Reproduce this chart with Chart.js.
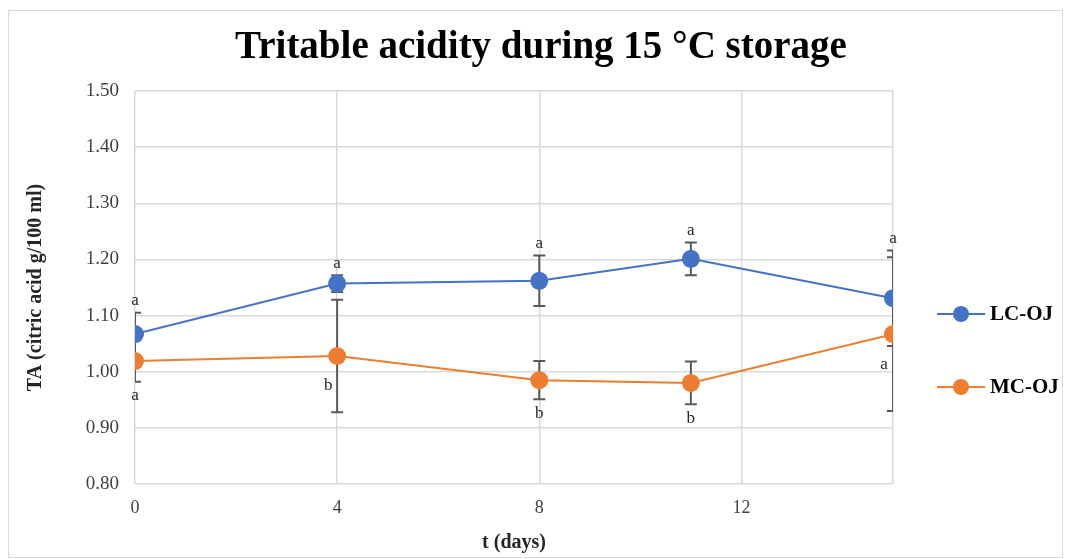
<!DOCTYPE html>
<html>
<head>
<meta charset="utf-8">
<script src="https://cdn.jsdelivr.net/npm/chart.js@4"></script>
<style>
  body { margin: 0; background: #fff; }
  canvas { display: block; }
</style>
</head>
<body>
<canvas id="chart" width="1065" height="559"></canvas>
<script>
// data
var days = [0, 4, 8, 11, 15];
var lcValues = [1.067, 1.157, 1.162, 1.201, 1.131];
var lcErrors = [0.038, 0.015, 0.045, 0.029, 0.085];
var mcValues = [1.019, 1.028, 0.985, 0.980, 1.067];
var mcErrors = [0.037, 0.100, 0.034, 0.038, 0.137];
var lcLetters = ['a', 'a', 'a', 'a', 'a'];
var mcLetters = ['a', 'b', 'b', 'b', 'a'];
var xTicks = [0, 4, 8, 12];
var chartTitle = 'Tritable acidity during 15 °C storage';

var serif = '"Liberation Serif", "Times New Roman", serif';
// where each MC letter sits relative to its point
var mcLetterPlace = ['below', 'left', 'below', 'below', 'left'];

function toPoints(xs, ys) {
  var pts = [];
  for (let i = 0; i < xs.length; i++) {
    pts.push({ x: xs[i], y: ys[i] });
  }
  return pts;
}

var extras = {
  id: 'extras',
  beforeDatasetsDraw: function(chart) {
    var ctx = chart.ctx;
    var xs = chart.scales.x, ys = chart.scales.y;
    var area = chart.chartArea;
    ctx.save();
    ctx.beginPath();
    ctx.rect(area.left, area.top - 20, area.right - area.left, area.bottom - area.top + 20);
    ctx.clip();
    ctx.strokeStyle = '#595959';
    ctx.lineWidth = 2;
    [[lcValues, lcErrors], [mcValues, mcErrors]].forEach(function(s) {
      for (let i = 0; i < days.length; i++) {
        var px = xs.getPixelForValue(days[i]);
        var top = ys.getPixelForValue(s[0][i] + s[1][i]);
        var bot = ys.getPixelForValue(s[0][i] - s[1][i]);
        ctx.beginPath();
        ctx.moveTo(px, top); ctx.lineTo(px, bot);
        ctx.moveTo(px - 6, top); ctx.lineTo(px + 6, top);
        ctx.moveTo(px - 6, bot); ctx.lineTo(px + 6, bot);
        ctx.stroke();
      }
    });
    ctx.restore();
  },
  afterDraw: function(chart) {
    var ctx = chart.ctx;
    var xs = chart.scales.x, ys = chart.scales.y;
    ctx.save();
    // outer frame
    ctx.strokeStyle = '#d9d9d9';
    ctx.lineWidth = 1;
    ctx.strokeRect(8.5, 10.5, 1054, 547);

    // title
    ctx.fillStyle = '#000';
    ctx.font = 'bold 39px ' + serif;
    ctx.textAlign = 'center';
    ctx.textBaseline = 'middle';
    ctx.fillText(chartTitle, 541, 48);

    // significance letters
    ctx.fillStyle = '#262626';
    ctx.font = '17px ' + serif;
    for (let i = 0; i < days.length; i++) {
      var px = xs.getPixelForValue(days[i]);
      var top = ys.getPixelForValue(lcValues[i] + lcErrors[i]);
      ctx.fillText(lcLetters[i], px, top - 12);
      var py = ys.getPixelForValue(mcValues[i]);
      if (mcLetterPlace[i] === 'left') {
        ctx.fillText(mcLetters[i], px - 9, py + 30);
      } else {
        var bot = ys.getPixelForValue(mcValues[i] - mcErrors[i]);
        ctx.fillText(mcLetters[i], px, bot + 14);
      }
    }

    // legend
    var items = [
      { label: 'LC-OJ', color: '#4472C4', y: 314 },
      { label: 'MC-OJ', color: '#ED7D31', y: 387 }
    ];
    ctx.textAlign = 'left';
    ctx.font = 'bold 21px ' + serif;
    items.forEach(function(it) {
      ctx.strokeStyle = it.color;
      ctx.lineWidth = 2;
      ctx.beginPath();
      ctx.moveTo(937, it.y); ctx.lineTo(985, it.y);
      ctx.stroke();
      ctx.fillStyle = it.color;
      ctx.beginPath();
      ctx.arc(961, it.y, 8, 0, Math.PI * 2);
      ctx.fill();
      ctx.fillStyle = '#000';
      ctx.fillText(it.label, 990, it.y + 1);
    });
    ctx.restore();
  }
};

var ctx = document.getElementById('chart').getContext('2d');
var config = {
  type: 'line',
  data: {
    datasets: [{
      label: 'LC-OJ',
      data: toPoints(days, lcValues),
      borderColor: '#4472C4',
      backgroundColor: '#4472C4',
      borderWidth: 2,
      pointRadius: 9,
      pointHoverRadius: 9,
      pointBorderWidth: 0,
      tension: 0
    }, {
      label: 'MC-OJ',
      data: toPoints(days, mcValues),
      borderColor: '#ED7D31',
      backgroundColor: '#ED7D31',
      borderWidth: 2,
      pointRadius: 9,
      pointHoverRadius: 9,
      pointBorderWidth: 0,
      tension: 0
    }]
  },
  options: {
    responsive: false,
    animation: false,
    layout: { padding: { top: 91, left: 20, right: 172, bottom: 0 } },
    plugins: {
      legend: { display: false },
      tooltip: { enabled: false },
      title: { display: false }
    },
    scales: {
      x: {
        type: 'linear',
        min: 0,
        max: 15,
        afterBuildTicks: function(scale) {
          scale.ticks = xTicks.concat([15]).map(function(v) { return { value: v }; });
        },
        afterFit: function(scale) { scale.height = 75; },
        ticks: {
          color: '#404040',
          font: { family: serif, size: 18 },
          padding: 13,
          callback: function(v) { return v === 15 ? '' : v; }
        },
        grid: { color: '#d9d9d9', lineWidth: 1.5, drawTicks: false },
        border: { display: false },
        title: {
          display: true,
          text: 't (days)',
          color: '#262626',
          font: { family: serif, size: 20, weight: 'bold' },
          padding: { top: 4 }
        }
      },
      y: {
        min: 0.8,
        max: 1.5,
        afterFit: function(scale) { scale.width = 115; },
        ticks: {
          stepSize: 0.1,
          color: '#404040',
          font: { family: serif, size: 19 },
          padding: 16,
          callback: function(v) { return v.toFixed(2); }
        },
        grid: { color: '#d9d9d9', lineWidth: 1.5, drawTicks: false },
        border: { display: false },
        title: {
          display: true,
          text: 'TA (citric acid g/100 ml)',
          color: '#262626',
          font: { family: serif, size: 20, weight: 'bold' },
          padding: { bottom: 6 }
        }
      }
    }
  },
  plugins: [extras]
};

var myChart = new Chart(ctx, config);
</script>
</body>
</html>
